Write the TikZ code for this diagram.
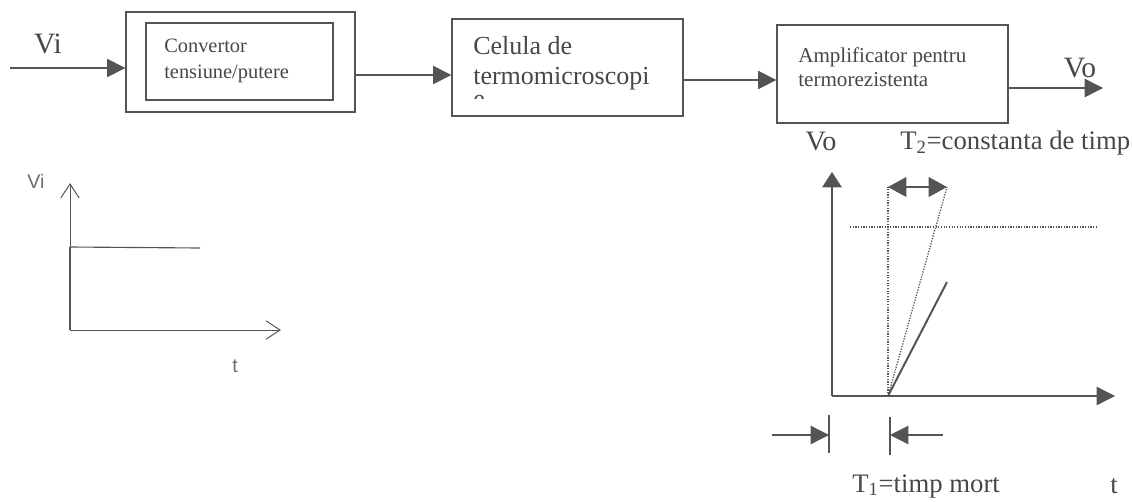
\documentclass[tikz,border=0pt]{standalone}
\usepackage{fontspec}
\setmainfont{Liberation Serif}
\setsansfont{Liberation Sans}
\usepackage{tikz}
\usetikzlibrary{arrows.meta,positioning}
\definecolor{ln}{gray}{0.33}
\definecolor{ink}{gray}{0.28}

\begin{document}
\begin{tikzpicture}[x=0.025cm, y=-0.025cm,
    blk/.style={rectangle, draw=ln, line width=0.9pt, inner sep=0pt},
    txt/.style={align=left, anchor=north west, inner sep=0pt, text=ink},
    lbl/.style={inner sep=0pt, text=ink},
    slbl/.style={inner sep=0pt, text=ink!80, font=\sffamily\fontsize{14}{14}\selectfont},
    arr/.style={-{Triangle[length=13pt,width=13pt]}, draw=ln, line width=0.9pt},
    openax/.style={-{Straight Barb[length=10pt,width=13pt]}, draw=ln, line width=0.7pt},
    dots/.style={draw=ln, densely dotted, line width=0.9pt},
    dblarr/.style={{Triangle[length=13pt,width=14pt]}-{Triangle[length=13pt,width=14pt]}, draw=ln, line width=0.9pt},
]
\useasboundingbox (0,0) rectangle (1132,501);
% Blocks
\node[blk, minimum width=5.725cm, minimum height=2.5cm]   (conv)   at (240.5,62)   {};
\node[blk, minimum width=4.675cm, minimum height=1.925cm] (convin) at (239.5,61.5) {};
\node[blk, minimum width=5.775cm, minimum height=2.425cm] (cel)    at (567.5,67.5) {};
\node[blk, minimum width=5.775cm, minimum height=2.45cm]  (amp)    at (892.5,74)   {};
% Block texts
\node[txt, font=\fontsize{14.5}{18}\selectfont] (convtxt) at (164,39) {Convertor\\tensiune/putere};
\node[txt, font=\fontsize{18.5}{21.5}\selectfont] (celtxt) at (473,36) {Celula de\\termomicroscopi};
\begin{scope}
  \clip (465,94) rectangle (495,98);
  \node[txt, font=\fontsize{18.5}{21.5}\selectfont] (celcut) at (473,94.5) {e};
\end{scope}
\node[txt, font=\fontsize{15}{17.5}\selectfont] (amptxt) at (798,47) {Amplificator pentru\\termorezistenta};
% Signal path
\coordinate (vin)  at (10,68);
\coordinate (vout) at (1103,88);
\draw[arr] (vin) -- (vin -| conv.west);
\draw[arr] (conv.east |- 0,75) -- (cel.west |- 0,75);
\draw[arr] (cel.east |- 0,80) -- (amp.west |- 0,80);
\draw[arr] (amp.east |- vout) -- (vout);
\node[lbl, font=\fontsize{21}{21}\selectfont] (vilbl) at (48,44) {Vi};
\node[lbl, font=\fontsize{21}{21}\selectfont] (volbl) at (1080,68) {Vo};
% Input step
\coordinate (o1) at (70,330);
\coordinate (y1) at (70,183);
\coordinate (x1) at (281,330);
\coordinate (s1) at (70,247);
\coordinate (s2) at (200,248);
\draw[openax] (o1) -- (y1);
\draw[openax] (o1) -- (x1);
\draw[ln, line width=0.8pt] (s1) -- (s2);
\draw[ln, line width=2pt] (o1) -- (s1);
\node[slbl] (vistep) at (36,181) {Vi};
\node[slbl] (tstep) at (235,366) {t};
% Output response
\coordinate (o2) at (832,396);
\coordinate (y2) at (832,172);
\coordinate (x2) at (1115,396);
\coordinate (r0) at (888,396);
\coordinate (r1) at (947,282);
\coordinate (d1) at (888,187);
\coordinate (d2) at (947,187);
\coordinate (h1) at (850,227);
\coordinate (h2) at (1098,227);
\draw[arr, -{Triangle[length=11pt,width=14pt]}] (o2) -- (y2);
\draw[arr] (o2) -- (x2);
\draw[ln, line width=1.4pt] (r0) -- (r1);
\draw[dots] (r0) -- (d1);
\draw[dots] (r0) -- (d2);
\draw[dots] (h1) -- (h2);
\draw[dblarr] (d1) -- (d2);
% Dead time marks
\coordinate (k1a) at (829,415);
\coordinate (k1b) at (829,453);
\coordinate (k2a) at (890,417);
\coordinate (k2b) at (890,455);
\coordinate (a1) at (772,435);
\coordinate (a2) at (943,435);
\draw[ln, line width=0.8pt] (k1a) -- (k1b);
\draw[ln, line width=0.8pt] (k2a) -- (k2b);
\draw[arr] (a1) -- (a1 -| k1a);
\draw[arr] (a2) -- (a2 -| k2a);
\node[lbl, font=\fontsize{20}{20}\selectfont] (vogr) at (821,142) {Vo};
\node[lbl, anchor=west, font=\fontsize{19}{19}\selectfont] (t2lbl) at (900,143) {T\textsubscript{2}=constanta de timp};
\node[lbl, anchor=west, font=\fontsize{19}{19}\selectfont] (t1lbl) at (852,486) {T\textsubscript{1}=timp mort};
\node[lbl, font=\fontsize{19}{19}\selectfont] (tgr) at (1114,486) {t};
\end{tikzpicture}
\end{document}
